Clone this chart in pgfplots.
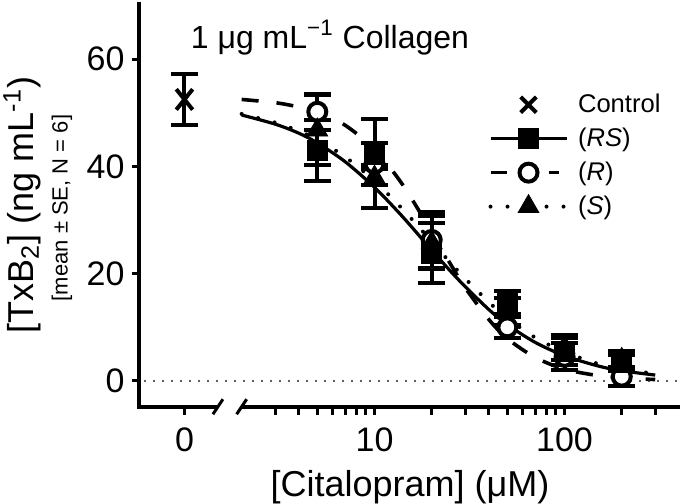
\documentclass[border=0pt]{standalone}
\usepackage{fontspec}
\setmainfont{Liberation Sans}
\usepackage{pgfplots}
\pgfplotsset{compat=1.18}

\begin{document}
\begin{tikzpicture}
\begin{axis}[
  scale only axis,
  width=270.25pt, height=201.35pt,
  xmode=log,
  xmin=0.58, xmax=405,
  ymin=-4.8, ymax=70.3,
  axis x line*=bottom, axis y line*=left,
  x axis line style={draw=none},
  y axis line style={line width=2pt, line cap=rect},
  tick align=outside,
  xtick={1,10,100}, xticklabels={0,10,100},
  minor xtick={3,4,5,6,7,8,9,20,30,40,50,60,70,80,90,200,300},
  ytick={0,20,40,60},
  major tick length=4pt, minor tick length=4pt,
  tick style={black, line width=1.5pt},
  ticklabel style={font=\fontsize{17}{17}\selectfont},
  xticklabel style={yshift=-3pt},
  /pgf/number format/assume math mode=true,
  clip=false,
  legend style={draw=none, fill=none, at={(axis description cs:0.645,0.7875)}, anchor=north west,
    inner sep=0pt, font=\fontsize{12.8}{14}\selectfont, row sep=2.2pt, nodes={inner sep=2pt},
    /tikz/every odd column/.append style={column sep=3pt}},
  legend cell align=left,
  error bars/y dir=both, error bars/y explicit,
  error bars/error bar style={line width=2pt, black},
  error bars/error mark options={rotate=90, mark size=6.7pt, line width=2pt, black},
]
% legend
\addlegendimage{legend image code/.code={\draw[black, line width=2pt, mark=x, mark size=5.5pt] plot coordinates {(19pt,0pt)};}}
\addlegendentry{Control}
\addlegendimage{legend image code/.code={\draw[black, line width=1.5pt] (0pt,0pt) -- (38pt,0pt); \draw[black, mark=square*, mark size=5pt] plot coordinates {(19pt,0pt)};}}
\addlegendentry{(\textit{RS})}
\addlegendimage{legend image code/.code={\draw[black, line width=1.8pt] (0pt,0pt) -- (8pt,0pt) (29pt,0pt) -- (34pt,0pt); \draw[black, line width=2pt, mark=*, mark size=4.5pt, mark options={fill=white}] plot coordinates {(19pt,0pt)};}}
\addlegendentry{(\textit{R})}
\addlegendimage{legend image code/.code={\draw[black, line width=2pt, line cap=round, dash pattern=on 0pt off 8.5pt] (0pt,0pt) -- (9pt,0pt) (28pt,0pt) -- (37pt,0pt); \draw[black, mark=triangle*, mark size=6pt] plot coordinates {(19pt,0pt)};}}
\addlegendentry{(\textit{S})}

% fitted curves
\addplot[black, line width=1.8pt, dash pattern=on 8.5pt off 9pt, smooth, forget plot] coordinates {
(2,52.5) (3,51.9) (4,51.1) (5,50.2) (7,47.7) (10,43.2) (14,36.7) (20,27.8) (25,21.9) (30,17.4) (40,11.45) (50,7.9) (70,4.4) (100,2.2) (150,1.0) (200,0.58) (300,0.26)};
\addplot[black, line width=2pt, line cap=round, dash pattern=on 0pt off 8.5pt, smooth, forget plot] coordinates {
(2,49.8) (3,48.2) (4,46.6) (5,45.0) (7,41.8) (10,37.3) (14,32.1) (20,26.0) (25,22.1) (30,19.1) (40,14.7) (50,11.7) (70,8.1) (100,5.4) (150,3.2) (200,2.25) (300,1.33)};
\addplot[black, line width=1.6pt, smooth, forget plot] coordinates {
(2,49.6) (3,47.9) (4,46.2) (5,44.4) (7,40.9) (10,36.1) (14,30.7) (20,24.4) (25,20.55) (30,17.6) (40,13.3) (50,10.5) (70,7.2) (100,4.7) (150,2.8) (200,1.9) (300,1.1)};

% data
\addplot[only marks, black, mark=x, mark size=5.8pt, mark options={line width=2pt, yscale=1.25}, forget plot] coordinates {(1,52.5) +- (0,4.7)};
\addplot[only marks, black, mark=*, mark size=4.5pt, mark options={fill=white, line width=2pt}, forget plot] coordinates {
(5,50.2) +- (0,3.4) (10,40.5) +- (0,8.3) (20,26.3) +- (0,5.2) (50,10.0) +- (0,2.0) (100,4.5) +- (0,2.5) (200,0.8) +- (0,1.8)};
\addplot[only marks, black, mark=triangle*, mark size=6pt, forget plot] coordinates {
(5,46.8) +- (0,6.5) (10,38.0) +- (0,1.5) (20,25.8) +- (0,5.0) (50,13.0) +- (0,2.5) (100,6.3) +- (0,2.3) (200,4.0) +- (0,1.6)};
\addplot[only marks, black, mark=square*, mark size=5pt, forget plot] coordinates {
(5,43.0) +- (0,5.7) (10,42.3) +- (0,2.0) (20,23.8) +- (0,5.6) (50,14.6) +- (0,2.1) (100,5.5) +- (0,2.5) (200,3.4) +- (0,1.5)};

% broken x axis and zero line
\draw[line width=2pt] (axis cs:0.58,-4.8) -- (axis cs:1.5,-4.8);
\draw[line width=2pt] (axis cs:2.0,-4.8) -- (axis cs:405,-4.8);
\draw[line width=1.5pt] ([xshift=-2.5pt,yshift=-3.75pt]axis cs:1.5,-4.8) -- ([xshift=2.5pt,yshift=3.75pt]axis cs:1.5,-4.8);
\draw[line width=1.5pt] ([xshift=-2.5pt,yshift=-3.75pt]axis cs:2.0,-4.8) -- ([xshift=2.5pt,yshift=3.75pt]axis cs:2.0,-4.8);
\draw[black!85, line width=1.2pt, line cap=round, dash pattern=on 0pt off 4.5pt] (axis cs:0.62,0) -- (axis cs:405,0);

% texts
\node[anchor=base, font=\fontsize{16}{16}\selectfont] at (axis description cs:0.3524,0.8907) {1 μg mL\textsuperscript{−1} Collagen};
\node[anchor=base, font=\fontsize{18}{18}\selectfont] at (axis description cs:0.5005,-0.2218) {[Citalopram] (μM)};
\node[rotate=90, anchor=center, font=\fontsize{18}{18}\selectfont] at (axis description cs:-0.2174,0.5009) {[TxB\textsubscript{2}] (ng mL\textsuperscript{-1})};
\node[rotate=90, anchor=center, font=\fontsize{11}{11}\selectfont] at (axis description cs:-0.1434,0.4934) {[mean ± SE, N = 6]};

\coordinate (bl) at (axis description cs:-0.2581,-0.2416);
\coordinate (tr) at (axis description cs:1.00925,1.00993);
\end{axis}
\pgfresetboundingbox
\path (bl) rectangle (tr);
\end{tikzpicture}
\end{document}
